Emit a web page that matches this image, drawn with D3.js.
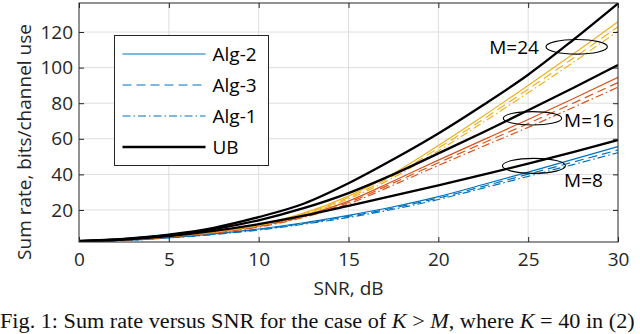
<!DOCTYPE html>
<html>
<head>
<meta charset="utf-8">
<script src="https://cdn.jsdelivr.net/npm/d3@7"></script>
<style>
  body { margin: 0; background: #fff; }
  svg { display: block; font-family: "Open Sans", sans-serif; }
</style>
</head>
<body>
<div id="chart"></div>
<script>
// data (SNR in dB, sum rate in bits/channel use)
const snr = [0, 2.5, 5, 7.5, 10, 12.5, 15, 17.5, 20, 22.5, 25, 27.5, 30];

const ub8  = [2.4, 3.4, 5.3, 8.2, 12.0, 16.8, 22.3, 28.0, 33.8, 39.8, 46.0, 52.5, 59.3];
const ub16 = [2.5, 3.6, 5.8, 9.2, 14.2, 21.0, 29.5, 40.0, 51.8, 63.7, 76.0, 88.5, 101.5];
const ub24 = [2.6, 3.8, 6.2, 10.0, 16.0, 23.5, 35.0, 48.5, 63.0, 79.0, 96.0, 115.5, 136.0];

// M=8 (blue)
const alg2M8 = [2.2, 3.0, 4.5, 6.6, 9.3, 12.8, 17.0, 21.8, 27.5, 34.3, 41.3, 48.4, 55.6];
const alg3M8 = [2.15, 2.9, 4.4, 6.4, 9.0, 12.4, 16.4, 21.1, 26.7, 33.3, 40.1, 46.9, 53.7];
const alg1M8 = [2.1, 2.85, 4.3, 6.2, 8.7, 12.0, 15.8, 20.4, 25.9, 32.3, 38.9, 45.5, 52.2];

// M=16 (orange)
const alg2M16 = [2.3, 3.2, 4.9, 7.4, 11.0, 16.8, 25.0, 36.3, 48.0, 59.4, 70.8, 82.5, 94.5];
const alg3M16 = [2.25, 3.15, 4.8, 7.2, 10.7, 16.3, 24.2, 35.2, 46.5, 57.6, 68.6, 80.0, 91.6];
const alg1M16 = [2.2, 3.1, 4.7, 7.0, 10.4, 15.8, 23.4, 34.0, 45.0, 55.8, 66.4, 77.6, 89.0];

// M=24 (yellow)
const alg2M24 = [2.4, 3.4, 5.2, 7.9, 11.8, 18.2, 27.8, 40.5, 56.2, 72.8, 90.0, 107.6, 125.8];
const alg3M24 = [2.35, 3.3, 5.1, 7.7, 11.5, 17.7, 27.0, 39.3, 54.7, 71.0, 87.9, 105.2, 123.0];
const alg1M24 = [2.3, 3.25, 5.0, 7.5, 11.2, 17.2, 26.2, 38.2, 53.2, 69.3, 85.9, 102.9, 120.5];

const xTicks = [0, 5, 10, 15, 20, 25, 30];
const yTicks = [20, 40, 60, 80, 100, 120];
const legendNames = ["Alg-2", "Alg-3", "Alg-1", "UB"];

// annotation positions in data units
const groupLabels = [
  { text: "M=24", snr: 25.6, rate: 107.6, anchor: "end", ex: 27.7, ey: 111.7, rx: 30.7, ry: 7.3 },
  { text: "M=16", snr: 27.0, rate: 66.5, anchor: "start", ex: 25.24, ey: 71.5, rx: 29.2, ry: 6.7 },
  { text: "M=8", snr: 27.0, rate: 33.1, anchor: "start", ex: 25.32, ey: 44.8, rx: 31.5, ry: 7.5 }
];

const width = 640;
const height = 334;
const margin = { top: 3, right: 22, bottom: 92, left: 79 };
const axisColor = "#262626";
const blue = "#0072BD", orange = "#D95319", yellow = "#EDB120";
const dashes = { solid: null, dashed: "9,5", dashdot: "8,3,1.5,3" };

const series = [
  { vals: alg2M8, color: blue, dash: dashes.solid },
  { vals: alg3M8, color: blue, dash: dashes.dashed },
  { vals: alg1M8, color: blue, dash: dashes.dashdot },
  { vals: alg2M16, color: orange, dash: dashes.solid },
  { vals: alg3M16, color: orange, dash: dashes.dashed },
  { vals: alg1M16, color: orange, dash: dashes.dashdot },
  { vals: alg2M24, color: yellow, dash: dashes.solid },
  { vals: alg3M24, color: yellow, dash: dashes.dashed },
  { vals: alg1M24, color: yellow, dash: dashes.dashdot },
  { vals: ub8, color: "#000", dash: null, ub: true },
  { vals: ub16, color: "#000", dash: null, ub: true },
  { vals: ub24, color: "#000", dash: null, ub: true }
];

const svg = d3.select("#chart")
  .append("svg")
  .attr("width", width)
  .attr("height", height);

const x = d3.scaleLinear()
  .domain([0, 30])
  .range([margin.left, width - margin.right]);

const y = d3.scaleLinear()
  .domain([2, 136.3])
  .range([height - margin.bottom, margin.top]);

// grid
svg.append("g")
  .selectAll("line")
  .data(xTicks.slice(1, -1))
  .join("line")
  .attr("x1", d => x(d)).attr("x2", d => x(d))
  .attr("y1", y.range()[0]).attr("y2", y.range()[1])
  .attr("stroke", "#dedede").attr("stroke-width", 1);

svg.append("g")
  .selectAll("line")
  .data(yTicks)
  .join("line")
  .attr("x1", x.range()[0]).attr("x2", x.range()[1])
  .attr("y1", d => y(d)).attr("y2", d => y(d))
  .attr("stroke", "#dedede").attr("stroke-width", 1);

// curves
svg.append("clipPath").attr("id", "plotclip")
  .append("rect")
  .attr("x", x.range()[0]).attr("y", y.range()[1])
  .attr("width", x.range()[1] - x.range()[0])
  .attr("height", y.range()[0] - y.range()[1]);

const line = d3.line()
  .x((d, i) => x(snr[i]))
  .y(d => y(d))
  .curve(d3.curveMonotoneX);

svg.append("g")
  .attr("clip-path", "url(#plotclip)")
  .selectAll("path")
  .data(series)
  .join("path")
  .attr("d", d => line(d.vals))
  .attr("fill", "none")
  .attr("stroke", d => d.color)
  .attr("stroke-width", d => d.ub ? 2.3 : 1.2)
  .attr("stroke-dasharray", d => d.dash);

// axes (ticks inside, like matlab)
function styleAxis(g) {
  g.select(".domain").remove();
  g.selectAll(".tick line").attr("stroke", axisColor);
  g.selectAll(".tick text").attr("fill", axisColor).attr("font-size", "19px")
    .attr("font-family", "'Open Sans', sans-serif");
}

svg.append("g")
  .attr("transform", `translate(0, ${y.range()[0]})`)
  .call(d3.axisBottom(x).tickValues(xTicks).tickSizeInner(-5).tickSizeOuter(0).tickPadding(11))
  .call(styleAxis);

svg.append("g")
  .attr("transform", `translate(0, ${y.range()[1]})`)
  .call(d3.axisTop(x).tickValues(xTicks).tickSizeInner(-5).tickSizeOuter(0).tickFormat(""))
  .call(styleAxis);

svg.append("g")
  .attr("transform", `translate(${x.range()[0]}, 0)`)
  .call(d3.axisLeft(y).tickValues(yTicks).tickSizeInner(-5).tickSizeOuter(0).tickPadding(6))
  .call(styleAxis);

svg.append("g")
  .attr("transform", `translate(${x.range()[1]}, 0)`)
  .call(d3.axisRight(y).tickValues(yTicks).tickSizeInner(-5).tickSizeOuter(0).tickFormat(""))
  .call(styleAxis);

svg.append("rect")
  .attr("x", x.range()[0]).attr("y", y.range()[1])
  .attr("width", x.range()[1] - x.range()[0])
  .attr("height", y.range()[0] - y.range()[1])
  .attr("fill", "none")
  .attr("stroke", axisColor)
  .attr("stroke-width", 1);

// axis labels
svg.append("text")
  .attr("x", (x.range()[0] + x.range()[1]) / 2)
  .attr("y", 295)
  .attr("text-anchor", "middle")
  .attr("font-size", "19px")
  .attr("fill", axisColor)
  .text("SNR, dB");

svg.append("text")
  .attr("transform", "translate(31, 142) rotate(-90)")
  .attr("text-anchor", "middle")
  .attr("font-size", "19px")
  .attr("fill", axisColor)
  .text("Sum rate, bits/channel use");

// ellipses + group labels
const ann = svg.append("g");
ann.selectAll("ellipse")
  .data(groupLabels)
  .join("ellipse")
  .attr("cx", d => x(d.ex))
  .attr("cy", d => y(d.ey))
  .attr("rx", d => d.rx)
  .attr("ry", d => d.ry)
  .attr("fill", "none")
  .attr("stroke", "#000")
  .attr("stroke-width", 1.1);

ann.selectAll("text")
  .data(groupLabels)
  .join("text")
  .attr("x", d => x(d.snr))
  .attr("y", d => y(d.rate))
  .attr("text-anchor", d => d.anchor)
  .attr("font-size", "19px")
  .attr("fill", "#000")
  .text(d => d.text);

// legend
const legend = svg.append("g").attr("transform", "translate(114.5, 35.5)");
legend.append("rect")
  .attr("width", 154).attr("height", 130)
  .attr("fill", "#fff")
  .attr("stroke", axisColor)
  .attr("stroke-width", 1);

const legendItems = [
  { color: blue, dash: dashes.solid, w: 1.2 },
  { color: blue, dash: dashes.dashed, w: 1.2 },
  { color: blue, dash: dashes.dashdot, w: 1.2 },
  { color: "#000", dash: null, w: 2.3 }
];

const rows = legend.selectAll("g")
  .data(legendItems)
  .join("g")
  .attr("transform", (d, i) => `translate(0, ${18.5 + i * 31})`);

rows.append("line")
  .attr("x1", 8).attr("x2", 91)
  .attr("y1", 0).attr("y2", 0)
  .attr("stroke", d => d.color)
  .attr("stroke-width", d => d.w)
  .attr("stroke-dasharray", d => d.dash);

rows.append("text")
  .attr("x", 98)
  .attr("dy", "0.35em")
  .attr("font-size", "19px")
  .attr("fill", "#000")
  .text((d, i) => legendNames[i]);

// caption below the figure (the scan is a bit wider than plain Times)
const cap = svg.append("text")
  .attr("transform", "translate(0, 328) scale(1.112, 1)")
  .style("font-family", "'Liberation Serif', 'Times New Roman', serif")
  .attr("font-size", "20px")
  .attr("fill", "#111");
cap.append("tspan").text("Fig. 1: Sum rate versus SNR for the case of ");
cap.append("tspan").attr("font-style", "italic").text("K");
cap.append("tspan").text(" > ");
cap.append("tspan").attr("font-style", "italic").text("M");
cap.append("tspan").text(", where ");
cap.append("tspan").attr("font-style", "italic").text("K");
cap.append("tspan").text(" = 40 in (2)");
</script>
</body>
</html>
